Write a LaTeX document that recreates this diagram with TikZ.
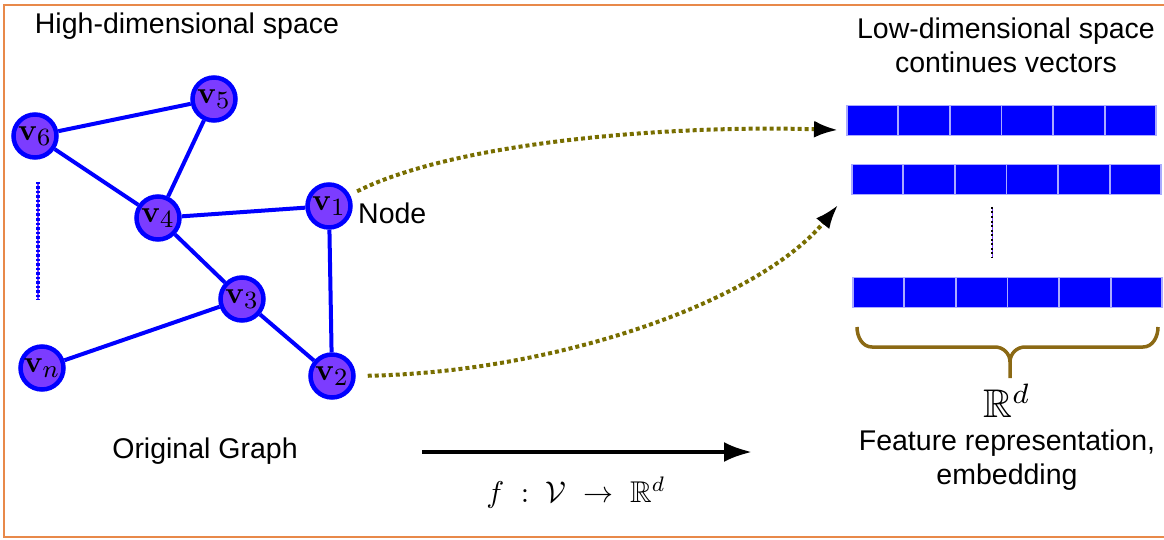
\documentclass[tikz,border=0pt]{standalone}
\usepackage{amssymb}
\usepackage{graphicx}
\usepackage[no-math]{fontspec}
\setmainfont{Liberation Sans}
\usetikzlibrary{arrows.meta}
\definecolor{frameor}{RGB}{232,137,74}
\definecolor{vfill}{RGB}{124,60,255}
\definecolor{cellbd}{RGB}{170,170,255}
\definecolor{olivedot}{RGB}{120,110,0}
\definecolor{bracec}{RGB}{139,105,20}
\newcommand{\vlab}[1]{\scalebox{3.1}{\fontsize{10}{10}\selectfont$\mathbf{v}_{\mbox{\fontsize{8}{8}\selectfont$#1$}}$}}
\tikzset{
  gnode/.style={circle, draw=blue, fill=vfill, line width=4.5pt, minimum size=43pt, inner sep=0pt},
  gedge/.style={draw=blue, line width=4pt},
  cell/.style={rectangle, fill=blue, draw=cellbd, line width=1.2pt, minimum width=51pt, minimum height=30pt, inner sep=0pt},
  lbl/.style={font=\fontsize{28.5}{34}\selectfont, align=center, inner sep=0pt},
  dotcurve/.style={draw=olivedot, line width=4pt, dash pattern=on 4pt off 3pt, -{Latex[length=24pt,width=17pt,color=black]}},
}
\begin{document}
\begin{tikzpicture}[x=1pt,y=-1pt]
\useasboundingbox (0,0) rectangle (1164,540);
% frame
\draw[frameor, line width=2.5pt] (1170,5) -- (4,5) -- (4,537) -- (1170,537);
% titles
\node[lbl] (thigh) at (187,26) {High-dimensional space};
\node[lbl] (tlow) at (1006,45) {Low-dimensional space\\continues vectors};
\node[lbl] (torig) at (205,451) {Original Graph};
\node[lbl] (tfeat) at (1007,460) {Feature representation,\\embedding};
% graph nodes
\node[gnode] (v5) at (214,99) {\vlab{5}};
\node[gnode] (v6) at (35,136) {\vlab{6}};
\node[gnode] (v4) at (158,218) {\vlab{4}};
\node[gnode] (v1) at (329,206) {\vlab{1}};
\node[gnode] (v3) at (242,299) {\vlab{3}};
\node[gnode] (v2) at (332,376) {\vlab{2}};
\node[gnode] (vn) at (42,368) {\vlab{n}};
\node[lbl, anchor=west] (tnode) at (358,213) {Node};
% edges
\draw[gedge] (v6) -- (v5);
\draw[gedge] (v6) -- (v4);
\draw[gedge] (v5) -- (v4);
\draw[gedge] (v4) -- (v1);
\draw[gedge] (v4) -- (v3);
\draw[gedge] (v3) -- (v2);
\draw[gedge] (v1) -- (v2);
\draw[gedge] (vn) -- (v3);
% vertical dots (graph)
\draw[vfill, line width=1.2pt] (38,182) -- (38,300);
\draw[blue, line width=4pt, dash pattern=on 2.5pt off 2pt] (38,182) -- (38,300);
% vector rows
\foreach \i in {0,...,5}{
  \node[cell] (ra\i) at ({847+25.5+51.6*\i},120.5) {};
  \node[cell] (rb\i) at ({852+25.5+51.6*\i},179.5) {};
  \node[cell] (rc\i) at ({853+25.5+51.6*\i},292.5) {};
}
\draw[vfill, line width=1pt] (992,207) -- (992,258);
\draw[black, line width=2.5pt, dash pattern=on 2pt off 2.5pt] (992,207) -- (992,258);
% brace
\draw[bracec, line width=3.5pt] (857,327) to[out=-90,in=180] (872,347) -- (995,347) to[out=0,in=90] (1010,362) -- (1010,378);
\draw[bracec, line width=3.5pt] (1158,327) to[out=-90,in=0] (1143,347) -- (1025,347) to[out=180,in=90] (1010,362);
\node[inner sep=0pt] (rd) at (1007,401) {\scalebox{4}{$\mathbb{R}^d$}};
% dotted mapping curves
\coordinate (e1) at (838,130);
\coordinate (e2) at (838,205);
\draw[dotcurve, shorten <=8pt] (v1.28) .. controls (460,140) and (680,125) .. (e1);
\draw[dotcurve, shorten <=12pt] (v2.east) .. controls (560,372) and (760,300) .. (e2);
% main arrow
\coordinate (a0) at (422,452);
\coordinate (a1) at (752,452);
\draw[line width=4pt, -{Latex[length=28pt,width=20pt]}] (a0) -- (a1);
\node[inner sep=0pt] (fmap) at (576,493) {\scalebox{3}{$f\;:\;\mathcal{V}\;\rightarrow\;\mathbb{R}^d$}};
\end{tikzpicture}
\end{document}
